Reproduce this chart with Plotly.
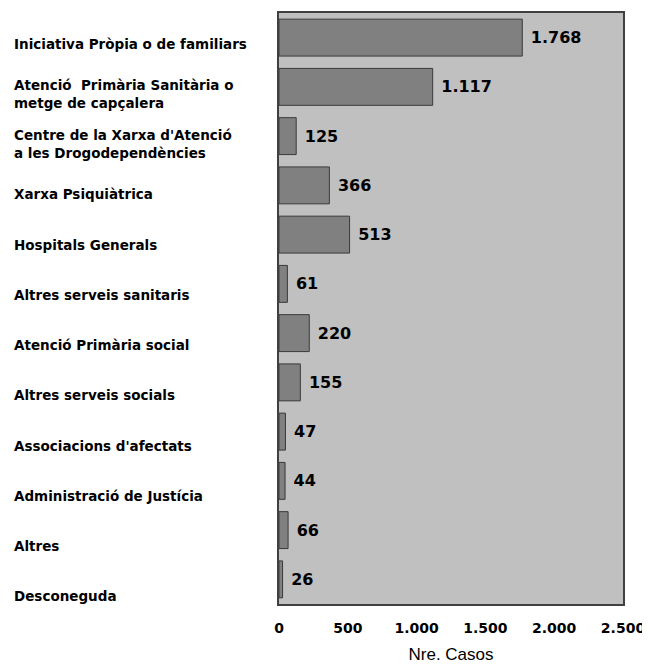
import plotly.graph_objects as go

categories = [
    "Iniciativa Pròpia o de familiars",
    "Atenció  Primària Sanitària o<br>metge de capçalera",
    "Centre de la Xarxa d'Atenció<br>a les Drogodependències",
    "Xarxa Psiquiàtrica",
    "Hospitals Generals",
    "Altres serveis sanitaris",
    "Atenció Primària social",
    "Altres serveis socials",
    "Associacions d'afectats",
    "Administració de Justícia",
    "Altres",
    "Desconeguda",
]
values = [1768, 1117, 125, 366, 513, 61, 220, 155, 47, 44, 66, 26]
x_ticks = [0, 500, 1000, 1500, 2000, 2500]
x_title = "Nre. Casos"

# page body has an 8px margin; compensate
OFF = 8
W, H = 650 - OFF, 664 - OFF
L, T = 279 - OFF, 13 - OFF
R = W - (623 - OFF)
B = H - (604 - OFF)
plot_w = W - L - R

fig = go.Figure()
fig.add_trace(go.Bar(
    y=list(range(len(categories))),
    x=values,
    orientation="h",
    width=0.75,
    marker=dict(color="#808080", line=dict(color="#3a3a3a", width=1)),
    texttemplate="\u00a0%{x:,}",
    textposition="outside",
    cliponaxis=False,
    textfont=dict(family="DejaVu Sans", size=16, color="black", weight="bold"),
    hoverinfo="skip",
))

annotations = []
for i, c in enumerate(categories):
    annotations.append(dict(
        x=(12 - 279) / plot_w, xref="paper", xanchor="left",
        y=i, yref="y", yanchor="middle",
        yshift=-(6 + i * 1.0),
        text=c, showarrow=False, align="left",
        font=dict(family="DejaVu Sans", size=13.5, color="black", weight="bold"),
    ))

fig.update_layout(
    width=W, height=H,
    margin=dict(l=L, r=R, t=T, b=B),
    paper_bgcolor="white",
    plot_bgcolor="#C0C0C0",
    separators=",.",
    showlegend=False,
    annotations=annotations,
)
fig.update_yaxes(
    range=[len(categories) - 0.5, -0.5],
    showticklabels=False, ticks="", showgrid=False, zeroline=False,
    showline=True, mirror=True, linecolor="#404040", linewidth=1.5,
    automargin=False,
)
fig.update_xaxes(
    range=[0, 2500],
    tickvals=x_ticks,
    tickformat=",d",
    ticks="", ticklabelstandoff=10,
    showgrid=False, zeroline=False,
    showline=True, mirror=True, linecolor="#404040", linewidth=1.5,
    automargin=False,
    tickfont=dict(family="DejaVu Sans", size=14, color="black", weight="bold"),
    title=dict(text=x_title, font=dict(family="Liberation Sans", size=17, color="black"), standoff=14),
)

fig.write_html("out.html")
